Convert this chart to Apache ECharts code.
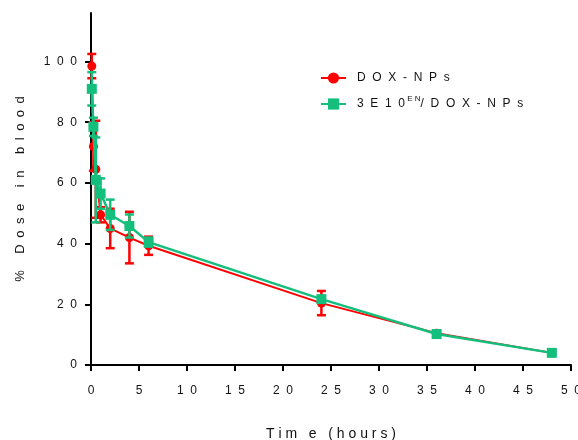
<!DOCTYPE html>
<html>
<head>
<meta charset="utf-8">
<script src="https://cdn.jsdelivr.net/npm/echarts@6/dist/echarts.min.js"></script>
<style>
  html, body { margin: 0; padding: 0; background: #fff; }
  #mainChart { width: 578px; height: 440px; }
</style>
</head>
<body>
<div id="mainChart"></div>
<script>
// time points (hours)
var times = [0.083, 0.25, 0.5, 1, 2, 4, 6, 24, 36, 48];
// DOX-NPs, mean and error
var doxMean = [98.5, 72, 64.5, 49.5, 45, 42, 39.3, 20.4, 10.5, 4];
var doxErr = [4, 8, 16, 2.5, 6.5, 8.5, 3, 4, 0.8, 0.6];
// 3E10EN/DOX-NPs, mean and error
var enMean = [91, 78.5, 61, 56.5, 49.5, 45.8, 40.5, 21.7, 10.2, 4];
var enErr = [5.5, 3, 14, 5, 5, 3.8, 1.5, 1, 1, 0.8];
// tick labels
var xTicks = [0, 5, 10, 15, 20, 25, 30, 35, 40, 45, 50];
var yTicks = [0, 20, 40, 60, 80, 100];

var red = '#FF0000';
var green = '#14BE7C';
var font = 'Liberation Sans, Arial, sans-serif';

function spaced(s, sep) {
    return String(s).split('').join(sep || '  ');
}

function pairs(mean) {
    var out = [];
    for (var i = 0; i < times.length; i++) {
        out.push([times[i], mean[i]]);
    }
    return out;
}

function errData(mean, err) {
    var out = [];
    for (var i = 0; i < times.length; i++) {
        out.push([times[i], mean[i] - err[i], mean[i] + err[i]]);
    }
    return out;
}

function errBars(color) {
    return function (params, api) {
        var lo = api.coord([api.value(0), api.value(1)]);
        var hi = api.coord([api.value(0), api.value(2)]);
        var w = 4.5;
        var style = { stroke: color, lineWidth: 2.5 };
        return {
            type: 'group',
            children: [
                { type: 'line', shape: { x1: lo[0], y1: lo[1], x2: hi[0], y2: hi[1] }, style: style },
                { type: 'line', shape: { x1: lo[0] - w, y1: lo[1], x2: lo[0] + w, y2: lo[1] }, style: style },
                { type: 'line', shape: { x1: hi[0] - w, y1: hi[1], x2: hi[0] + w, y2: hi[1] }, style: style }
            ]
        };
    };
}

var myChart = echarts.init(document.getElementById('mainChart'));

var option = {
    backgroundColor: '#fff',
    animation: false,
    textStyle: { fontFamily: font },
    grid: { left: 91, right: 7, top: 13, bottom: 75, containLabel: false, outerBoundsMode: 'none' },
    legend: {
        orient: 'vertical',
        left: 315,
        top: 67,
        itemWidth: 25,
        itemHeight: 14,
        itemGap: 11,
        data: ['DOX-NPs', '3E10EN/DOX-NPs'],
        formatter: function (name) {
            if (name === 'DOX-NPs') {
                return '{n|' + spaced('DOX-NPs') + '}';
            }
            return '{n|' + spaced('3E10') + '}{sup| ' + spaced('EN', ' ') + '}{n|' + spaced('/DOX-NPs') + '}';
        },
        textStyle: {
            color: '#111',
            fontSize: 12,
            padding: [0, 0, 0, 6],
            rich: {
                n: { fontSize: 12, color: '#111', fontFamily: font },
                sup: { fontSize: 8, color: '#111', fontFamily: font, padding: [0, 0, 10, 0] }
            }
        }
    },
    xAxis: {
        type: 'value',
        min: 0,
        max: 50,
        interval: 5,
        name: spaced('Tim e (hours)', ' '),
        nameLocation: 'middle',
        nameGap: 62,
        nameTextStyle: { fontSize: 14, color: '#111' },
        splitLine: { show: false },
        axisLine: { onZero: false, lineStyle: { color: '#000', width: 2 } },
        axisTick: { length: 6, lineStyle: { color: '#000', width: 2 } },
        axisLabel: {
            margin: 20,
            fontSize: 12,
            color: '#111',
            formatter: function (v) { return spaced(v); }
        }
    },
    yAxis: {
        type: 'value',
        min: 0,
        max: 116,
        name: spaced('% Dose in blood', '\u2002'),
        nameLocation: 'middle',
        nameGap: 64,
        nameTextStyle: { fontSize: 13, color: '#111' },
        splitLine: { show: false },
        axisLine: { show: true, onZero: false, lineStyle: { color: '#000', width: 2 } },
        axisTick: { show: true, length: 6, customValues: yTicks, lineStyle: { color: '#000', width: 2 } },
        axisLabel: {
            margin: 14,
            fontSize: 12,
            color: '#111',
            customValues: yTicks,
            formatter: function (v) { return spaced(v); }
        }
    },
    series: [
        {
            name: 'doxErr',
            type: 'custom',
            renderItem: errBars(red),
            data: errData(doxMean, doxErr),
            z: 2
        },
        {
            name: 'DOX-NPs',
            type: 'line',
            data: pairs(doxMean),
            symbol: 'circle',
            symbolSize: 9,
            itemStyle: { color: red },
            lineStyle: { color: red, width: 2 },
            z: 3
        },
        {
            name: 'enErr',
            type: 'custom',
            renderItem: errBars(green),
            data: errData(enMean, enErr),
            z: 4
        },
        {
            name: '3E10EN/DOX-NPs',
            type: 'line',
            data: pairs(enMean),
            symbol: 'rect',
            symbolSize: 10,
            itemStyle: { color: green },
            lineStyle: { color: green, width: 2.5 },
            z: 5
        }
    ]
};

myChart.setOption(option);
</script>
</body>
</html>
